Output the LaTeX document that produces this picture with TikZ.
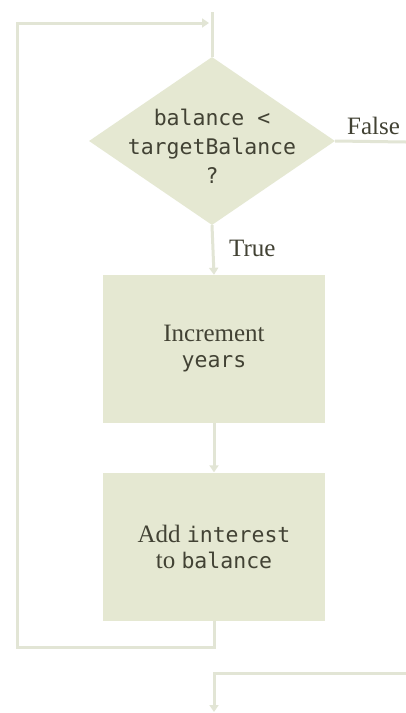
\documentclass[tikz,border=0pt]{standalone}
\usepackage{fontspec}
\setmainfont{Liberation Serif}
\setmonofont{DejaVu Sans Mono}
\usetikzlibrary{shapes.geometric,arrows.meta}
\definecolor{boxfill}{HTML}{E5E8D2}
\definecolor{linec}{HTML}{E2E5D5}
\definecolor{txt}{HTML}{424234}
\tikzset{
  flow/.style={draw=linec, line width=3pt},
  arr/.style={flow, -{Triangle[width=9pt,length=7pt]}},
  stepbox/.style={rectangle, fill=boxfill, draw=none, minimum width=222pt, minimum height=148pt, inner sep=0pt, align=center, text=txt, font=\fontsize{25}{28}\selectfont},
  decide/.style={diamond, fill=boxfill, draw=none, minimum width=246pt, minimum height=168pt, inner sep=0pt},
  decidetext/.style={align=center, text=txt, inner sep=0pt, font=\ttfamily\fontsize{21.5}{29}\selectfont},
  lbl/.style={text=txt, font=\fontsize{25}{26}\selectfont, inner sep=0pt}
}
\begin{document}
\begin{tikzpicture}[x=1pt,y=-1pt]
\useasboundingbox[fill=white] (0,0) rectangle (406,713);
\node[decide] (cond) at (212,141) {};
\node[decidetext] (condtext) at ([yshift=-5pt]cond.center) {balance <\\targetBalance\\?};
\node[stepbox] (inc) at (214,349) {Increment\\[-2pt]\texttt{\fontsize{21.5}{26}\selectfont years}};
\node[stepbox] (add) at (214,546.5) {Add \texttt{\fontsize{21.5}{26}\selectfont interest}\\[-2pt]to \texttt{\fontsize{21.5}{26}\selectfont balance}};
\coordinate (entry) at (212,12);
\coordinate (loopbl) at (17,647);
\coordinate (looptl) at (17,23);
\coordinate (loopin) at (209,23);
\coordinate (falseend) at (406,142);
\coordinate (exitstart) at (406,673);
\coordinate (exitcorner) at (214,673);
\coordinate (exitend) at (214,712);
\draw[flow] (entry) -- (cond.north);
\draw[flow] (cond.east) -- (falseend);
\draw[arr] (cond.south) -- (inc.north);
\draw[arr] (inc.south) -- (add.north);
\draw[arr] (add.south) |- (loopbl) -- (looptl) -- (loopin);
\draw[arr] (exitstart) -- (exitcorner) -- (exitend);
\node[lbl, anchor=west] (flabel) at (347,126) {False};
\node[lbl, anchor=west] (tlabel) at (229,248) {True};
\end{tikzpicture}
\end{document}
